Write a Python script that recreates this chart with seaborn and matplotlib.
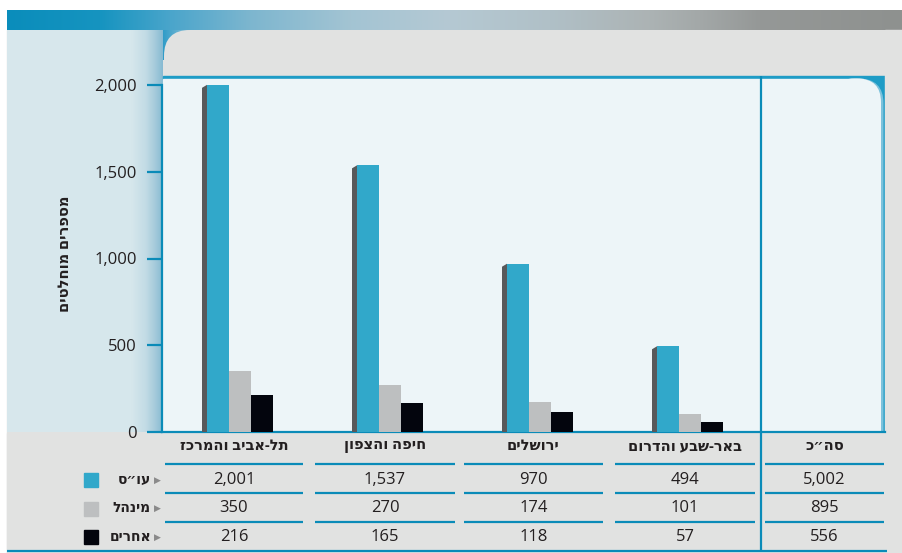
import numpy as np
import pandas as pd
import matplotlib
matplotlib.use("Agg")
import matplotlib.pyplot as plt
import seaborn as sns
from matplotlib.patches import Rectangle, FancyBboxPatch, Polygon
from matplotlib.colors import to_rgb

# ---------------- data ----------------
regions = ["תל-אביב והמרכז", "חיפה והצפון", "ירושלים", "באר-שבע והדרום"]
total_label = "סה״כ"
types = ["עו״ס", "מינהל", "אחרים"]
social_workers = [2001, 1537, 970, 494]
administration = [350, 270, 174, 101]
others = [216, 165, 118, 57]
totals = [5002, 895, 556]
y_ticks = [0, 500, 1000, 1500, 2000]
y_label = "מספרים מוחלטים"

colors = ["#31a8ca", "#bdbfc0", "#03050d"]
BLUE = "#0a8bb8"
TXT = "#231f20"


def vis(s):
    # matplotlib has no bidi support: give Hebrew in visual order
    return s[::-1]


sns.set_style("white")
plt.rcParams["font.family"] = ["Open Sans", "DejaVu Sans"]

df = pd.DataFrame({
    "region": regions * 3,
    "type": [types[0]] * 4 + [types[1]] * 4 + [types[2]] * 4,
    "value": social_workers + administration + others,
})

fig = plt.figure(figsize=(9.03, 5.53), dpi=100, facecolor="white")

# ---------------- background decoration (pixel coordinates) ----------------
bg = fig.add_axes([0, 0, 1, 1], zorder=0)
bg.axis("off")


def hgrad(x0, x1, y0, y1, stops, z):
    xs = np.linspace(x0, x1, 600)
    px = [s[0] for s in stops]
    cols = np.array([to_rgb(s[1]) for s in stops])
    img = np.stack([np.interp(xs, px, cols[:, k]) for k in range(3)], axis=-1)[None, :, :]
    bg.imshow(img, extent=(x0, x1, y1, y0), aspect="auto", zorder=z,
              interpolation="bilinear")


bg.add_patch(Rectangle((7, 30), 896, 523, color="#e1e2e1", zorder=0))
# top gradient strip
hgrad(7, 903, 10, 30, [(7, "#0a8dbb"), (100, "#1694c0"), (170, "#4aa5cb"),
                       (250, "#7db6cf"), (350, "#a3c4d3"), (450, "#b5c9d3"),
                       (550, "#b0c0c7"), (650, "#acb3b4"), (700, "#a3a8a8"),
                       (760, "#959897"), (903, "#8e918f")], 1)
# left light-blue panel
hgrad(7, 163, 30, 432, [(7, "#d8e8ed"), (132, "#d6e7ec"), (146, "#c2dbe5"),
                        (155, "#a6cbdb"), (163, "#86bad2")], 1)
hgrad(163, 195, 30, 60, [(163, "#2f9cc8"), (180, "#6db4d2"), (195, "#a9cbd9")], 2)
bg.add_patch(FancyBboxPatch((164, 30), 780, 90,
                            boxstyle="round,pad=0,rounding_size=26",
                            fc="#e1e2e1", ec="none", zorder=3))
# plot area with blue frame and rounded top-right corner
bg.add_patch(Rectangle((163, 76), 722, 356, color="#1e9cc6", zorder=4))
bg.add_patch(FancyBboxPatch((830, 78.5), 53.5, 400,
                            boxstyle="round,pad=0,rounding_size=25",
                            fc="#7cc2dc", ec="none", zorder=4.5))
bg.add_patch(FancyBboxPatch((830, 78.5), 51, 400,
                            boxstyle="round,pad=0,rounding_size=24",
                            fc="#edf5f8", ec="none", zorder=5))
bg.add_patch(Rectangle((163, 78.5), 700, 353.5, color="#edf5f8", zorder=5.5))
# table area
bg.add_patch(Rectangle((7, 433), 896, 120, color="#e1e2e1", zorder=7))
bg.add_patch(Rectangle((885, 30), 18, 523, color="#e1e2e1", zorder=7))

# separator and table rules
bg.plot([761, 761], [76, 551], color=BLUE, lw=1.6, zorder=9, solid_capstyle="butt")
bg.plot([7, 887], [551, 551], color=BLUE, lw=1.6, zorder=9, solid_capstyle="butt")
cols_px = [(165, 303), (315, 455), (464, 603), (615, 755), (765, 884)]
for (a, b) in cols_px:
    for yy in (464, 492.5, 521.5):
        bg.plot([a, b], [yy, yy], color=BLUE, lw=1.6, zorder=9, solid_capstyle="butt")

# table text
headers = regions + [total_label]
rows = [social_workers + [totals[0]], administration + [totals[1]], others + [totals[2]]]
row_y = [480, 508.5, 537]
for i, (a, b) in enumerate(cols_px):
    cx = (a + b) / 2
    bg.text(cx, 446, vis(headers[i]), ha="center", va="center", fontsize=10.5,
            fontweight="bold", color=TXT, zorder=10)
    for r, yy in enumerate(row_y):
        bg.text(cx, yy, f"{rows[r][i]:,}", ha="center", va="center", fontsize=12,
                color=TXT, zorder=10)

# legend column
for r, yy in enumerate(row_y):
    bg.add_patch(Rectangle((84, yy - 7), 14, 14, color=colors[r], zorder=10))
    bg.text(151, yy, vis(types[r]), ha="right", va="center", fontsize=10,
            fontweight="bold", color=TXT, zorder=10)
    bg.text(157, yy, "▶", ha="center", va="center", fontsize=6.5,
            color="#8a8a8a", zorder=10, family="DejaVu Sans")

bg.set_xlim(0, 903)
bg.set_ylim(553, 0)

# ---------------- main chart ----------------
ax = fig.add_axes([162 / 903, (553 - 432) / 553, (885 - 162) / 903, (432 - 76) / 553],
                  zorder=2)
ax.set_facecolor("none")

sns.barplot(data=df, x="region", y="value", hue="type", order=regions,
            hue_order=types, palette=dict(zip(types, colors)), width=0.44,
            saturation=1, legend=False, ax=ax, linewidth=0, zorder=3)

ymax = (432 - 76) / 173.5 * 1000
ax.set_xlim(-0.52, 4.3)
ax.set_ylim(0, ymax)

# 3-D side strip on the blue bars
side = 5 / 150
slant = 3 / 0.1735
for p in ax.containers[0]:
    x0 = p.get_x()
    h = p.get_height()
    ax.add_patch(Polygon([(x0 - side, 0), (x0 - side, h - slant), (x0, h), (x0, 0)],
                         closed=True, fc="#58595b", ec="none", zorder=3))

ax.set_xticks([])
ax.set_yticks(y_ticks)
ax.set_yticklabels([f"{v:,}" for v in y_ticks])
ax.set_xlabel("")
ax.set_ylabel("")
for s in ("top", "right"):
    ax.spines[s].set_visible(False)
ax.spines["left"].set_bounds(0, 2000)
ax.spines["left"].set_color(BLUE)
ax.spines["left"].set_linewidth(1.6)
ax.spines["bottom"].set_color(BLUE)
ax.spines["bottom"].set_linewidth(1.6)
ax.tick_params(axis="y", direction="out", length=11, width=1.6, color=BLUE,
               labelsize=12, labelcolor=TXT, pad=7, left=True)

fig.text(65 / 903, 1 - 254 / 553, vis(y_label), rotation=90, ha="center",
         va="center", fontsize=10.5, fontweight="bold", color=TXT)

fig.savefig("out.png", dpi=100, facecolor="white")
